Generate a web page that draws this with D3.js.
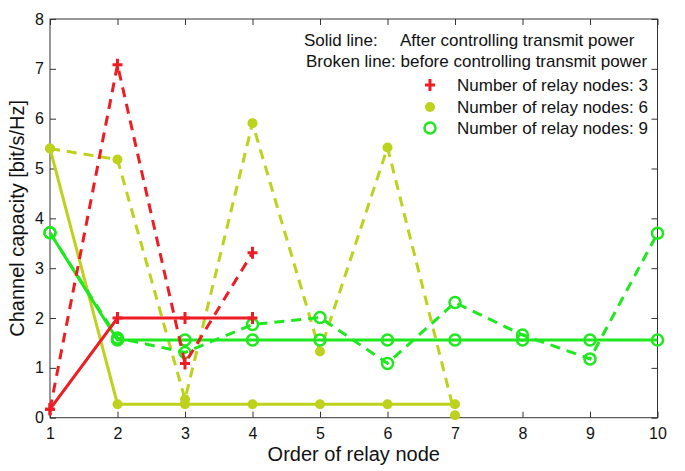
<!DOCTYPE html>
<html><head><meta charset="utf-8">
<script src="https://cdn.jsdelivr.net/npm/d3@7"></script>
<style>body{margin:0;background:#fff;} text{font-family:"Liberation Sans",Arial,sans-serif;fill:#111;}</style>
</head><body>
<svg id="c" width="685" height="471"></svg>
<script>
const xTicks = [1,2,3,4,5,6,7,8,9,10];
const yTicks = [0,1,2,3,4,5,6,7,8];
const n3After  = [0.17, 2.0, 2.0, 2.0];
const n3Before = [0.17, 7.08, 1.09, 3.31];
const n6After  = [5.40, 0.27, 0.27, 0.27, 0.27, 0.27, 0.27];
const n6Before = [5.40, 5.18, 0.37, 5.91, 1.33, 5.42, 0.05];
const n9After  = [3.71, 1.56, 1.56, 1.56, 1.56, 1.56, 1.56, 1.56, 1.56, 1.56];
const n9Before = [3.71, 1.60, 1.31, 1.87, 2.01, 1.09, 2.31, 1.66, 1.18, 3.70];
const legendNote = ["Solid line:", "After controlling transmit power", "Broken line: before controlling transmit power"];
const seriesNames = ["Number of relay nodes: 3","Number of relay nodes: 6","Number of relay nodes: 9"];
const colors = ["#ee1d24","#bdd21c","#1fe81f"];

const svg = d3.select("#c");
const L=50, R=657.5, T=19, B=417.7;
const x = d3.scaleLinear().domain([1,10]).range([L,R]);
const y = d3.scaleLinear().domain([0,8]).range([B,T]);

svg.append("rect").attr("x",L).attr("y",T).attr("width",R-L).attr("height",B-T)
  .attr("fill","none").attr("stroke","#333").attr("stroke-width",1);

const tl = 6;
const gx = svg.append("g").attr("transform",`translate(0,${B})`)
  .call(d3.axisBottom(x).tickValues(xTicks).tickSize(-tl).tickPadding(10).tickFormat(d3.format("d")));
const gy = svg.append("g").attr("transform",`translate(${L},0)`)
  .call(d3.axisLeft(y).tickValues(yTicks).tickSize(-tl).tickPadding(6).tickFormat(d3.format("d")));
const gxt = svg.append("g").attr("transform",`translate(0,${T})`)
  .call(d3.axisTop(x).tickValues(xTicks).tickSize(-tl).tickFormat(""));
const gyr = svg.append("g").attr("transform",`translate(${R},0)`)
  .call(d3.axisRight(y).tickValues(yTicks).tickSize(-tl).tickFormat(""));
[gx,gy,gxt,gyr].forEach(g=>{g.select(".domain").remove();g.selectAll("line").attr("stroke","#333");
  g.selectAll("text").attr("font-size",16).attr("fill","#111").attr("font-family","Liberation Sans, Arial, sans-serif");});

const line = d3.line().x((d,i)=>x(i+1)).y(d=>y(d));
function drawSeries(vals, color, dashed, marker){
  svg.append("path").datum(vals).attr("d",line).attr("fill","none").attr("stroke",color)
    .attr("stroke-width",3).attr("stroke-dasharray",dashed?"10,7":null);
  const g = svg.append("g");
  vals.forEach((v,i)=>drawMarker(g, x(i+1), y(v), color, marker));
}
function drawMarker(g, cx, cy, color, marker){
  if(marker==="plus"){
    g.append("path").attr("d",`M${cx-5},${cy}H${cx+5}M${cx},${cy-6}V${cy+6}`)
      .attr("stroke",color).attr("stroke-width",3).attr("fill","none");
  } else if(marker==="dot"){
    g.append("circle").attr("cx",cx).attr("cy",cy).attr("r",5).attr("fill",color);
  } else {
    g.append("circle").attr("cx",cx).attr("cy",cy).attr("r",5.5).attr("fill","none")
      .attr("stroke",color).attr("stroke-width",2.5);
  }
}
drawSeries(n6Before, colors[1], true, "dot");
drawSeries(n6After, colors[1], false, "dot");
drawSeries(n9Before, colors[2], true, "circle");
drawSeries(n9After, colors[2], false, "circle");
drawSeries(n3Before, colors[0], true, "plus");
drawSeries(n3After, colors[0], false, "plus");

svg.append("text").attr("x",304).attr("y",46).attr("font-size",17).text(legendNote[0]);
svg.append("text").attr("x",400).attr("y",46).attr("font-size",17).text(legendNote[1]);
svg.append("text").attr("x",306).attr("y",67).attr("font-size",17).text(legendNote[2]);
const markers=["plus","dot","circle"];
const ly=[85,107,128];
seriesNames.forEach((s,i)=>{
  drawMarker(svg, 430, ly[i], colors[i], markers[i]);
  svg.append("text").attr("x",457).attr("y",ly[i]+6).attr("font-size",17).text(s);
});

svg.append("text").attr("x",(L+R)/2).attr("y",461).attr("text-anchor","middle").attr("font-size",20).text("Order of relay node");
svg.append("text").attr("transform",`translate(24,${(T+B)/2}) rotate(-90)`).attr("text-anchor","middle").attr("font-size",20).text("Channel capacity [bit/s/Hz]");
</script>
</body></html>
